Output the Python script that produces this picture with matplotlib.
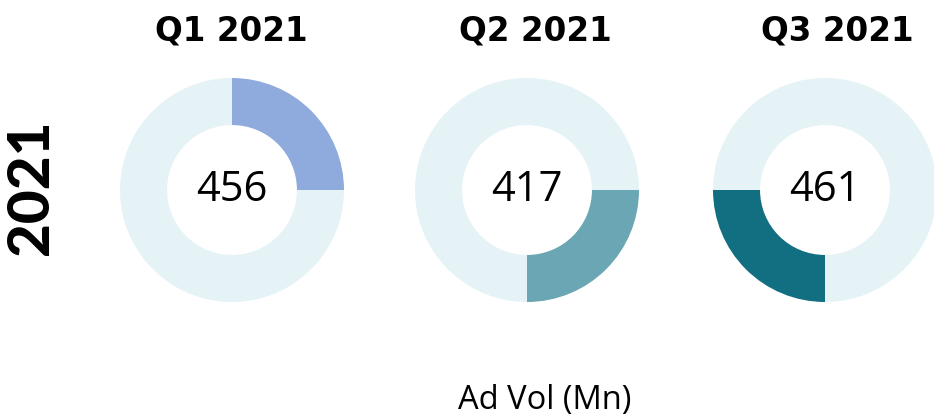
import matplotlib
matplotlib.use("Agg")
import matplotlib.pyplot as plt

quarters = ["Q1 2021", "Q2 2021", "Q3 2021"]
ad_vol = [456, 417, 461]
share = [0.25, 0.25, 0.25]
colors = ["#8FAADC", "#6AA6B3", "#126E81"]
ring_color = "#E5F3F7"

W, H = 934, 418
fig = plt.figure(figsize=(W / 100, H / 100), dpi=100)

centers_x = [232, 527, 825]
title_x = [231, 535, 837]
cy, r = 190, 112

for i, q in enumerate(quarters):
    cx = centers_x[i]
    ax = fig.add_axes([(cx - r) / W, (H - cy - r) / H, 2 * r / W, 2 * r / H])
    ax.pie([share[i], 1 - share[i]], colors=[colors[i], ring_color],
           startangle=90 - 90 * i, counterclock=False, radius=1,
           wedgeprops=dict(width=0.42, linewidth=0))
    ax.set_xlim(-1, 1)
    ax.set_ylim(-1, 1)
    ax.set_aspect("equal")
    ax.axis("off")
    ax.text(0, 0, str(ad_vol[i]), ha="center", va="center",
            fontsize=30, family="Open Sans", color="black")
    fig.text(title_x[i] / W, 1 - 31 / H, q, ha="center", va="center",
             fontsize=23.5, fontweight="bold", family="DejaVu Sans")

fig.text(31 / W, 1 - 187 / H, "2021", rotation=90, ha="center", va="center",
         fontsize=42, fontweight="black", family="Lato")
fig.text(545 / W, 1 - 401 / H, "Ad Vol (Mn)", ha="center", va="center",
         fontsize=23.5, family="Open Sans")

plt.savefig("out.png", dpi=100)
